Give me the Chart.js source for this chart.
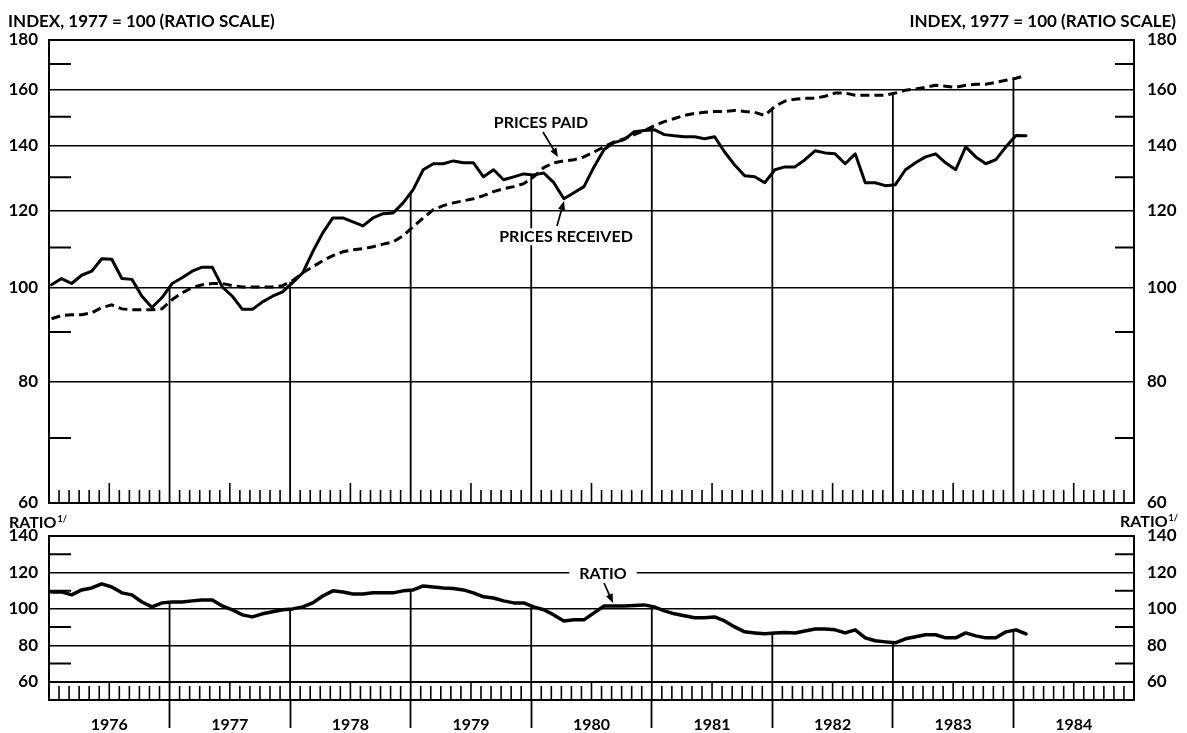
<!DOCTYPE html>
<html>
<head>
<meta charset="utf-8">
<script src="https://cdn.jsdelivr.net/npm/chart.js@4.4.1/dist/chart.umd.min.js"></script>
<style>
  html, body { margin: 0; padding: 0; background: #fff; }
  #wrap { position: relative; width: 1187px; height: 733px; overflow: hidden; }
  #wrap canvas { position: absolute; left: 0; top: 0; }
</style>
</head>
<body>
<div id="wrap">
  <canvas id="top" width="1187" height="733"></canvas>
  <canvas id="bottom" width="1187" height="733"></canvas>
</div>
<script>
// ---------------- DATA (monthly, Jan 1976 - Feb 1984) ----------------
const yearLabels = ['1976', '1977', '1978', '1979', '1980', '1981', '1982', '1983', '1984'];

const pricesReceived = [
  100.7, 102.2, 101.0, 103.0, 104.0, 107.1, 107.0, 102.2, 102.0, 98.0, 95.4, 97.7,
  101.0, 102.4, 104.0, 105.0, 105.0, 100.2, 98.0, 95.0, 95.0, 96.7, 98.0, 99.0,
  101.2, 103.6, 108.9, 113.9, 118.0, 118.0, 116.9, 115.8, 118.0, 119.2, 119.4, 122.3,
  126.2, 132.3, 134.2, 134.2, 135.1, 134.5, 134.5, 130.1, 132.3, 129.2, 130.1, 131.0,
  130.7, 131.3, 128.3, 123.5, 125.3, 127.1, 133.2, 138.8, 141.1, 142.1, 144.8, 145.2,
  145.5, 143.8, 143.4, 143.1, 143.1, 142.4, 143.1, 138.0, 133.8, 130.4, 130.1, 128.3,
  132.3, 133.2, 133.2, 135.5, 138.4, 137.7, 137.4, 134.2, 137.4, 128.3, 128.3, 127.4,
  127.7, 132.3, 134.5, 136.4, 137.4, 134.5, 132.3, 139.7, 136.4, 134.2, 135.5, 139.7,
  143.5, 143.4
];

const pricesPaid = [
  92.9, 93.6, 93.8, 93.8, 94.2, 95.4, 96.0, 95.1, 94.9, 94.9, 94.9, 95.1,
  97.2, 98.8, 100.0, 100.7, 101.0, 101.0, 100.5, 100.2, 100.2, 100.2, 100.2, 100.5,
  101.7, 103.6, 105.1, 106.6, 107.9, 108.9, 109.4, 109.7, 110.2, 110.9, 111.5, 113.1,
  115.6, 118.0, 120.3, 121.5, 122.3, 122.9, 123.5, 124.4, 125.6, 126.5, 127.1, 128.0,
  130.1, 133.0, 134.5, 135.1, 135.5, 136.4, 138.0, 139.7, 141.3, 142.4, 143.8, 145.2,
  146.9, 148.3, 149.4, 150.5, 151.2, 151.6, 151.9, 151.9, 152.3, 151.9, 151.6, 150.5,
  153.8, 155.7, 156.4, 156.8, 156.8, 157.5, 158.7, 158.7, 157.9, 157.9, 157.9, 157.9,
  158.7, 159.8, 160.2, 160.9, 161.7, 161.3, 160.9, 161.7, 162.1, 162.1, 162.8, 163.6,
  164.4, 165.5
];

const ratio = [
  109.3, 109.3, 107.7, 110.4, 111.5, 113.7, 112.0, 108.8, 107.7, 103.8, 101.1, 103.3,
  103.8, 103.8, 104.4, 104.9, 104.9, 101.6, 99.5, 96.7, 95.6, 97.3, 98.4, 99.5,
  100.0, 101.1, 103.3, 107.1, 109.9, 109.3, 108.2, 108.2, 108.8, 108.8, 108.8, 109.9,
  110.4, 112.6, 112.0, 111.5, 111.2, 110.4, 108.8, 106.6, 106.0, 104.4, 103.3, 103.3,
  101.1, 99.5, 96.7, 93.4, 94.0, 94.0, 97.8, 101.6, 101.6, 101.6, 101.9, 102.2,
  101.1, 98.9, 97.3, 96.2, 95.1, 95.1, 95.6, 93.4, 90.1, 87.4, 86.8, 86.3,
  86.8, 87.1, 86.8, 87.9, 89.0, 89.0, 88.5, 86.8, 88.5, 84.1, 82.5, 81.9,
  81.4, 83.6, 84.7, 85.8, 85.8, 84.1, 84.1, 86.8, 85.2, 84.1, 84.1, 87.4,
  88.5, 86.3
];

const indexTicks = [60, 80, 100, 120, 140, 160, 180];
const indexMinorTicks = [70, 90, 110, 130, 150, 170];
const ratioTicks = [60, 80, 100, 120, 140];
const ratioMinorTicks = [70, 90, 110, 130];

// ---------------- CHART SETUP ----------------
const TOTAL_MONTHS = yearLabels.length * 12;
const POINT_OFFSET = 0.25; // plotted position inside each month
const FONT = 'Lato, "Open Sans", "DejaVu Sans", sans-serif';
Chart.defaults.font.family = FONT;
Chart.defaults.color = '#000';

const toPoints = arr => arr.map((v, i) => ({ x: i + POINT_OFFSET, y: v }));

function curveTop(chart, px) {
  let top = Infinity;
  chart.data.datasets.forEach((ds, di) => {
    const pts = chart.getDatasetMeta(di).data;
    for (let j = 0; j < pts.length - 1; j++) {
      const a = pts[j], b = pts[j + 1];
      if (a.x <= px && px <= b.x) {
        const t = (px - a.x) / (b.x - a.x);
        top = Math.min(top, a.y + t * (b.y - a.y));
        break;
      }
    }
  });
  return top;
}

function arrow(ctx, x1, y1, x2, y2) {
  ctx.save();
  ctx.strokeStyle = '#000'; ctx.fillStyle = '#000'; ctx.lineWidth = 1.7;
  const a = Math.atan2(y2 - y1, x2 - x1), L = 9, W = 3.6;
  ctx.beginPath(); ctx.moveTo(x1, y1);
  ctx.lineTo(x2 - (L - 2) * Math.cos(a), y2 - (L - 2) * Math.sin(a)); ctx.stroke();
  ctx.beginPath(); ctx.moveTo(x2, y2);
  ctx.lineTo(x2 - L * Math.cos(a) + W * Math.sin(a), y2 - L * Math.sin(a) - W * Math.cos(a));
  ctx.lineTo(x2 - L * Math.cos(a) - W * Math.sin(a), y2 - L * Math.sin(a) + W * Math.cos(a));
  ctx.closePath(); ctx.fill();
  ctx.restore();
}

function text(ctx, str, x, y, align, size, bg) {
  ctx.save();
  ctx.font = 'bold ' + size + 'px ' + FONT;
  ctx.textAlign = align; ctx.textBaseline = 'alphabetic';
  if (bg) {
    const w = ctx.measureText(str).width;
    const x0 = align === 'center' ? x - w / 2 : (align === 'right' ? x - w : x);
    ctx.fillStyle = '#fff';
    ctx.fillRect(x0 - bg, y - size * 0.85, w + 2 * bg, size * 1.05);
  }
  ctx.fillStyle = '#000';
  ctx.fillText(str, x, y);
  ctx.restore();
}

function ratioHeading(ctx, x, y, alignRight) {
  ctx.save();
  ctx.font = 'bold 16px ' + FONT;
  const w1 = ctx.measureText('RATIO').width;
  ctx.font = 'bold 9px ' + FONT;
  const w2 = ctx.measureText('1/').width;
  const x0 = alignRight ? x - w1 - w2 - 1 : x;
  ctx.fillStyle = '#000'; ctx.textAlign = 'left'; ctx.textBaseline = 'alphabetic';
  ctx.font = 'bold 16px ' + FONT;
  ctx.fillText('RATIO', x0, y);
  ctx.font = 'bold 9px ' + FONT;
  ctx.fillText('1/', x0 + w1 + 1, y - 6);
  ctx.restore();
}

function decorPlugin(cfg) {
  return {
    id: 'decor',
    beforeDatasetsDraw(chart) {
      const ctx = chart.ctx, ca = chart.chartArea;
      const xs = chart.scales.x, ys = chart.scales.y;
      ctx.save();
      ctx.strokeStyle = '#000';
      // monthly tick marks along the bottom edge
      ctx.lineWidth = 1.6;
      for (let m = 1; m < TOTAL_MONTHS; m++) {
        if (m % 12 === 0) continue;
        const px = xs.getPixelForValue(m);
        const len = (m % 12 === 6) ? cfg.tallTick : cfg.shortTick;
        ctx.beginPath(); ctx.moveTo(px, ca.bottom); ctx.lineTo(px, ca.bottom - len); ctx.stroke();
      }
      // minor value ticks on both sides
      ctx.lineWidth = 2;
      cfg.minor.forEach(v => {
        const py = ys.getPixelForValue(v);
        ctx.beginPath();
        ctx.moveTo(ca.left, py); ctx.lineTo(ca.left + 22, py);
        ctx.moveTo(ca.right - 19, py); ctx.lineTo(ca.right, py);
        ctx.stroke();
      });
      // year drop lines up to the curves
      ctx.lineWidth = 1.8;
      for (let y = 1; y < yearLabels.length; y++) {
        const px = xs.getPixelForValue(y * 12);
        const top = curveTop(chart, px);
        if (!isFinite(top)) continue;
        ctx.beginPath(); ctx.moveTo(px, ca.bottom); ctx.lineTo(px, top); ctx.stroke();
      }
      ctx.restore();
    },
    afterDraw(chart) { cfg.labels(chart.ctx, chart); }
  };
}

const edgeWidth = (ticks) => (c) => (c.tick && (c.tick.value === ticks[0] || c.tick.value === ticks[ticks.length - 1])) ? 2 : 1.6;

function yAxis(type, position, min, max, ticks, width, gridOnArea) {
  return {
    type: type, position: position, min: min, max: max,
    afterFit: s => { s.width = width; },
    afterBuildTicks: s => { s.ticks = ticks.map(v => ({ value: v })); },
    ticks: {
      callback: v => String(v), padding: position === 'left' ? 11 : 13,
      font: { size: 17, weight: 'bold' }, color: '#000', autoSkip: false
    },
    grid: { display: true, drawOnChartArea: gridOnArea, drawTicks: false, color: '#000', lineWidth: edgeWidth(ticks) },
    border: { display: true, color: '#000', width: 2 }
  };
}

// ---------------- TOP PANEL ----------------
new Chart(document.getElementById('top'), {
  type: 'line',
  data: {
    datasets: [
      { label: 'PRICES RECEIVED', data: toPoints(pricesReceived), borderColor: '#000', borderWidth: 3,
        pointRadius: 0, tension: 0, fill: false, borderJoinStyle: 'round', borderCapStyle: 'round' },
      { label: 'PRICES PAID', data: toPoints(pricesPaid), borderColor: '#000', borderWidth: 3,
        borderDash: [9, 5], pointRadius: 0, tension: 0, fill: false }
    ]
  },
  options: {
    responsive: false, animation: false, events: [],
    layout: { padding: { top: 40, bottom: 230, left: 0, right: 0 } },
    plugins: { legend: { display: false }, tooltip: { enabled: false }, title: { display: false } },
    scales: {
      x: { type: 'linear', min: 0, max: TOTAL_MONTHS, display: false },
      y: yAxis('logarithmic', 'left', 60, 180, indexTicks, 49, true),
      y2: yAxis('logarithmic', 'right', 60, 180, indexTicks, 53, false)
    }
  },
  plugins: [decorPlugin({
    shortTick: 13, tallTick: 20, minor: indexMinorTicks,
    labels(ctx) {
      text(ctx, 'INDEX, 1977 = 100 (RATIO SCALE)', 8, 27, 'left', 17);
      text(ctx, 'INDEX, 1977 = 100 (RATIO SCALE)', 1176, 27, 'right', 17);
      text(ctx, 'PRICES PAID', 541, 128, 'center', 16);
      arrow(ctx, 543, 132, 558, 157);
      text(ctx, 'PRICES RECEIVED', 566, 242, 'center', 16, 3);
      arrow(ctx, 557, 226, 564, 201);
    }
  })]
});

// ---------------- BOTTOM PANEL (RATIO) ----------------
new Chart(document.getElementById('bottom'), {
  type: 'line',
  data: {
    datasets: [
      { label: 'RATIO', data: toPoints(ratio), borderColor: '#000', borderWidth: 3.5,
        pointRadius: 0, tension: 0, fill: false, borderJoinStyle: 'round', borderCapStyle: 'round' }
    ]
  },
  options: {
    responsive: false, animation: false, events: [],
    layout: { padding: { top: 536, bottom: 0, left: 0, right: 0 } },
    plugins: { legend: { display: false }, tooltip: { enabled: false }, title: { display: false } },
    scales: {
      x: {
        type: 'linear', min: 0, max: TOTAL_MONTHS, position: 'bottom',
        afterFit: s => { s.height = 33; },
        afterBuildTicks: s => {
          const t = [];
          for (let m = 0; m <= TOTAL_MONTHS; m += 6) t.push({ value: m });
          s.ticks = t;
        },
        ticks: {
          autoSkip: false, maxRotation: 0, minRotation: 0, padding: -13,
          font: { size: 16, weight: 'bold' }, color: '#000',
          callback: v => (v % 12 === 6) ? yearLabels[(v - 6) / 12] : ''
        },
        grid: {
          display: true, drawOnChartArea: false, drawTicks: true, tickLength: 28, tickWidth: 1.8,
          tickColor: c => {
            const v = c.tick ? c.tick.value : -1;
            return (v % 12 === 0 && v > 0 && v < TOTAL_MONTHS) ? '#000' : 'rgba(0,0,0,0)';
          }
        },
        border: { display: true, color: '#000', width: 2 }
      },
      y: yAxis('linear', 'left', 50, 140, ratioTicks, 49, true),
      y2: yAxis('linear', 'right', 50, 140, ratioTicks, 53, false)
    }
  },
  plugins: [decorPlugin({
    shortTick: 14, tallTick: 17, minor: ratioMinorTicks,
    labels(ctx) {
      ratioHeading(ctx, 9, 528, false);
      ratioHeading(ctx, 1178, 527, true);
      text(ctx, 'RATIO', 603, 579, 'center', 16, 10);
      arrow(ctx, 604, 583, 613, 603);
    }
  })]
});
</script>
</body>
</html>
